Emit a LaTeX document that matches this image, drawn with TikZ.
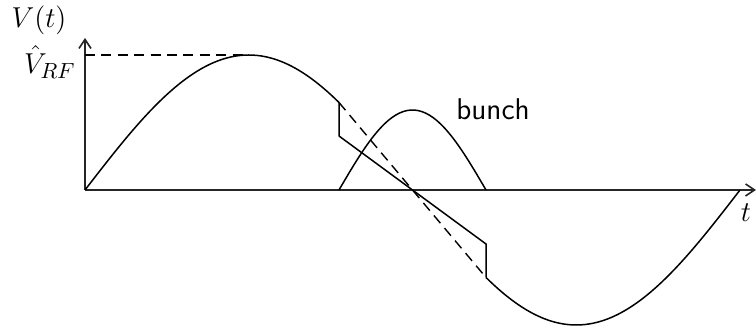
\documentclass[tikz,border=0pt]{standalone}
\usepackage{amsmath}
\usepackage{tikz}
\usetikzlibrary{arrows.meta,calc,positioning}

\begin{document}
\begin{tikzpicture}[
  x=0.5pt,y=0.5pt,
  axis/.style={-{Straight Barb[length=4.5pt,width=6pt]},line width=0.8pt,color=black!85},
  wave/.style={line width=0.75pt,line join=round},
  guide/.style={line width=0.7pt,dash pattern=on 5pt off 3.2pt},
  label/.style={font=\fontsize{15.5}{18}\selectfont,inner sep=0pt}
]
\useasboundingbox (-85,-140) rectangle (671,190);

% axes
\coordinate (orig) at (0,0);
\coordinate (ytop) at (0,152);
\coordinate (xend) at (671,0);
\draw[axis] (orig) -- (ytop);
\draw[axis] (orig) -- (xend);
\node[label] (vlab) at (-46,170) {$V(t)$};
\node[label] (tlab) at (661,-23) {$t$};
\node[label,anchor=east] (vrf) at (-9,128) {$\hat{V}_{RF}$};

% RF wave with the linearised part
\coordinate (peak) at (163.75,135);
\coordinate (sa) at (254,{135*sin(254/655*360)});
\coordinate (sb) at (254,54);
\coordinate (sc) at (401,-54);
\coordinate (sd) at (401,{135*sin(401/655*360)});
\draw[guide] (0,135) -- (peak);
\draw[wave] plot[domain=0:254,samples=60,smooth] (\x,{135*sin(\x/655*360)});
\draw[wave] (sa) -- (sb) -- (sc) -- (sd);
\draw[wave] plot[domain=401:655,samples=60,smooth] (\x,{135*sin(\x/655*360)});
\draw[guide] (sa) -- (sd);

% bunch
\draw[wave] plot[domain=0:180,samples=40,smooth] ({254+0.81667*\x},{80*sin(\x)});
\node[font=\fontsize{15}{18}\selectfont\sffamily,inner sep=0pt] (bunch) at (408,81) {bunch};
\end{tikzpicture}
\end{document}
